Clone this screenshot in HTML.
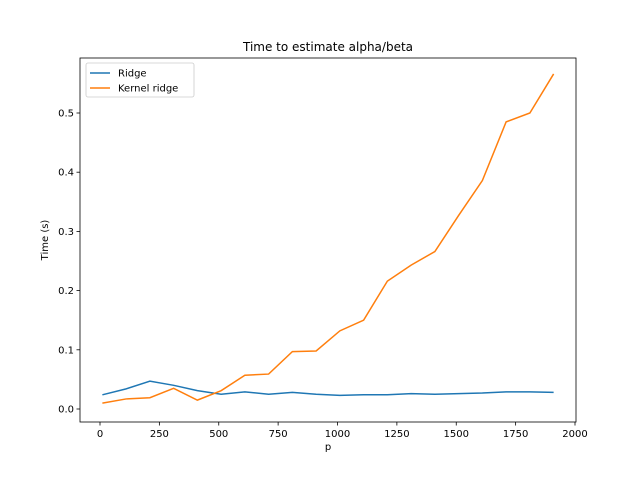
<!DOCTYPE html>
<html><head><meta charset="utf-8"><style>
body{margin:0;background:#fff;font-family:"DejaVu Sans","Liberation Sans",sans-serif;}
svg text{font-family:"DejaVu Sans","Liberation Sans",sans-serif;font-size:10px;fill:#000;}
</style></head><body>
<svg id="chart" width="640" height="480">
<rect width="640" height="480" fill="#fff"/>
<g id="g"></g>
</svg>
<script>
const xs=[10,110,210,310,410,510,610,710,810,910,1010,1110,1210,1310,1410,1510,1610,1710,1810,1910];
const ridge=[0.024,0.034,0.047,0.040,0.031,0.025,0.029,0.025,0.028,0.025,0.023,0.024,0.024,0.026,0.025,0.026,0.027,0.029,0.029,0.028];
const kernel=[0.010,0.017,0.019,0.035,0.015,0.031,0.057,0.059,0.097,0.098,0.132,0.150,0.216,0.243,0.266,0.327,0.386,0.485,0.500,0.566];
const xTicks=[0,250,500,750,1000,1250,1500,1750,2000];
const yTicks=[0.0,0.1,0.2,0.3,0.4,0.5];
const L=80,R=576,T=58,B=422;
const X=v=>100+v*(575-100)/2000;
const Y=v=>409-v*592;
const NS="http://www.w3.org/2000/svg";
const g=document.getElementById('g');
function mk(t,a,txt){const e=document.createElementNS(NS,t);for(const k in a)e.setAttribute(k,a[k]);if(txt!==undefined)e.textContent=txt;g.appendChild(e);return e;}
xTicks.forEach(v=>{const x=X(v);
const l=mk('line',{x1:x,x2:x,y1:B,y2:B+3.5,stroke:'#000','stroke-width':0.8});


const t=mk('text',{x:x,y:B+15,'text-anchor':'middle'},String(v));

});
yTicks.forEach(v=>{const y=Y(v);
const l=mk('line',{x1:L-3.5,x2:L,y1:y,y2:y,stroke:'#000','stroke-width':0.8});


const t=mk('text',{x:L-6,y:y+3.5,'text-anchor':'end'},v.toFixed(1));

});
function line(vals,color,name){const p=mk('polyline',{points:xs.map((x,i)=>X(x)+','+Y(vals[i])).join(' '),fill:'none',stroke:color,'stroke-width':1.5});

}
line(ridge,'#1f77b4','ridge-line');
line(kernel,'#ff7f0e','kernel-ridge-line');
const fr=mk('rect',{x:L,y:T,width:R-L,height:B-T,fill:'none',stroke:'#000','stroke-width':0.8});


const ti=mk('text',{x:(L+R)/2,y:T-7,'text-anchor':'middle',style:'font-size:12px'},'Time to estimate alpha/beta');


const xl=mk('text',{x:(L+R)/2,y:450,'text-anchor':'middle'},'p');


const yl=mk('text',{x:0,y:0,'text-anchor':'middle',transform:'translate(48,240) rotate(-90)'},'Time (s)');


const lg=mk('rect',{x:86,y:63,width:108,height:34,rx:2,fill:'#fff',stroke:'#ccc','stroke-width':0.8,'fill-opacity':0.8});


[['Ridge','#1f77b4',73],['Kernel ridge','#ff7f0e',88]].forEach(([n,c,y])=>{
const l=mk('line',{x1:90,x2:110,y1:y,y2:y,stroke:c,'stroke-width':1.5});


const t=mk('text',{x:118,y:y+3.5},n);

});
</script>
</body></html>
